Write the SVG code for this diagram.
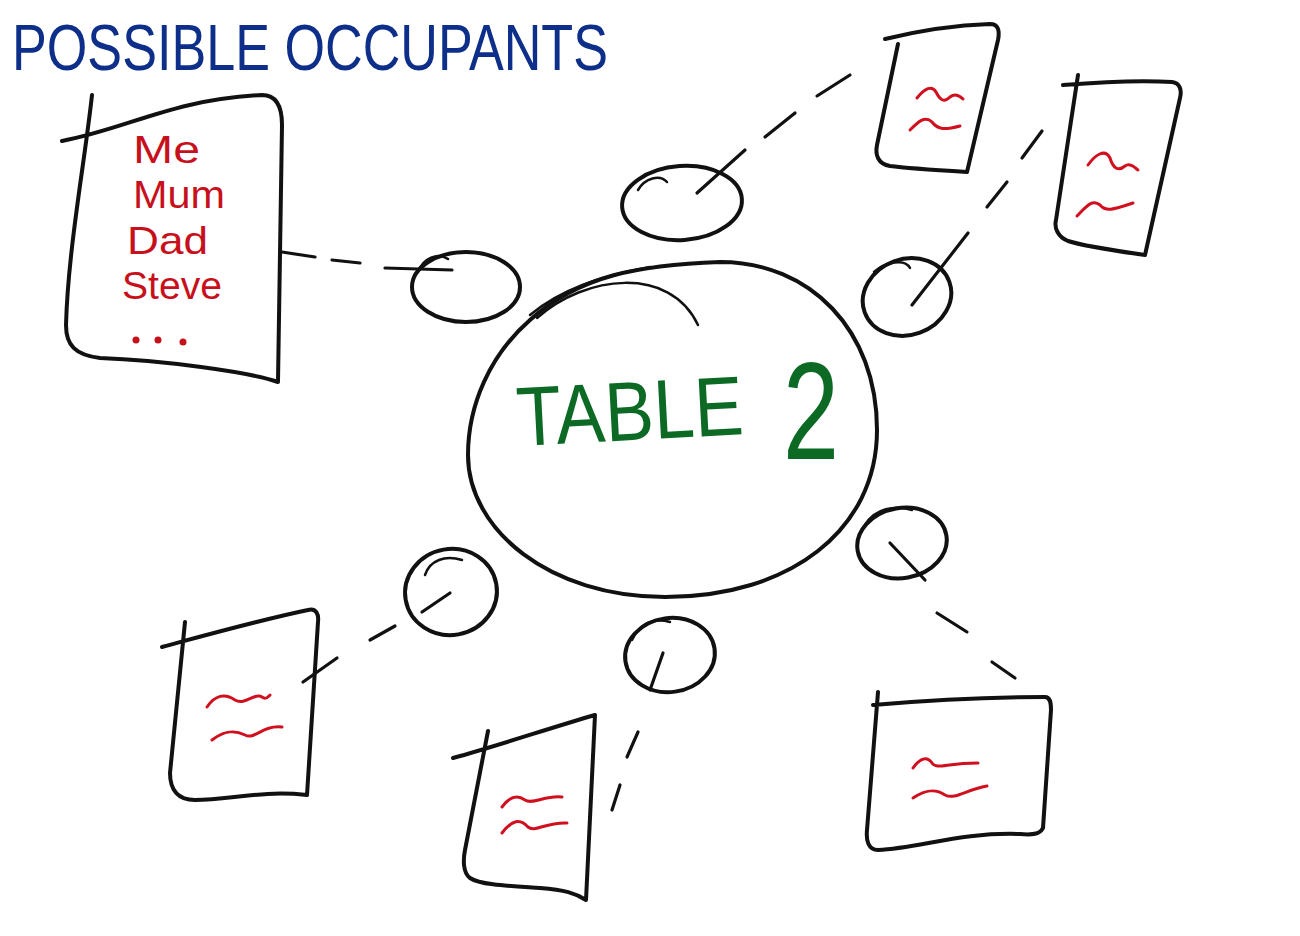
<svg xmlns="http://www.w3.org/2000/svg" width="1300" height="936" viewBox="0 0 1300 936">
<style>
.ink{fill:none;stroke:#111;stroke-width:4;stroke-linecap:round;stroke-linejoin:round}
.thin{fill:none;stroke:#111;stroke-width:2.5;stroke-linecap:round}
.dash{fill:none;stroke:#111;stroke-width:3.2;stroke-linecap:round}
.sq{fill:none;stroke:#d0101e;stroke-width:3;stroke-linecap:round;stroke-linejoin:round}
.red{fill:#c8101c;font-family:"Liberation Sans",Arial,sans-serif;font-size:39px}
.title{fill:#0d2f8a;font-family:"Liberation Sans",Arial,sans-serif;font-size:64px}
.green{fill:#0d6a25;font-family:"Liberation Sans",Arial,sans-serif}
</style>
<rect width="1300" height="936" fill="#fff"/>
<text class="title" x="12" y="70" textLength="596" lengthAdjust="spacingAndGlyphs">POSSIBLE OCCUPANTS</text>

<g id="connectors">
  <line class="dash" x1="282" y1="252" x2="315" y2="257"/>
  <line class="dash" x1="332" y1="260" x2="360" y2="263"/>
  <line class="dash" x1="385" y1="268" x2="452" y2="270"/>
  <line class="dash" x1="697" y1="193" x2="745" y2="150"/>
  <line class="dash" x1="765" y1="137" x2="795" y2="113"/>
  <line class="dash" x1="817" y1="96" x2="850" y2="75"/>
  <line class="dash" x1="912" y1="305" x2="968" y2="233"/>
  <line class="dash" x1="987" y1="207" x2="1007" y2="182"/>
  <line class="dash" x1="1022" y1="158" x2="1042" y2="131"/>
  <line class="dash" x1="890" y1="543" x2="925" y2="580"/>
  <line class="dash" x1="937" y1="613" x2="967" y2="632"/>
  <line class="dash" x1="992" y1="662" x2="1015" y2="678"/>
  <line class="dash" x1="663" y1="653" x2="650" y2="690"/>
  <line class="dash" x1="638" y1="732" x2="627" y2="757"/>
  <line class="dash" x1="620" y1="785" x2="612" y2="810"/>
  <line class="dash" x1="422" y1="612" x2="450" y2="593"/>
  <line class="dash" x1="370" y1="640" x2="395" y2="626"/>
  <line class="dash" x1="303" y1="682" x2="337" y2="658"/>
</g>

<g id="list-card">
  <path class="ink" d="M62,141 C130,128 170,100 262,95 C275,95 282,105 282,125 L278,382 C250,372 160,360 100,358 C75,355 66,345 66,325 C68,250 85,160 92,95"/>
  <text class="red" x="133" y="163" textLength="67" lengthAdjust="spacingAndGlyphs">Me</text>
  <text class="red" x="133" y="208" textLength="92" lengthAdjust="spacingAndGlyphs">Mum</text>
  <text class="red" x="127" y="254" textLength="81" lengthAdjust="spacingAndGlyphs">Dad</text>
  <text class="red" x="122" y="299" textLength="100" lengthAdjust="spacingAndGlyphs">Steve</text>
  <circle cx="136" cy="340" r="3.5" fill="#c8101c"/>
  <circle cx="158" cy="340" r="3.5" fill="#c8101c"/>
  <circle cx="183" cy="342" r="3.5" fill="#c8101c"/>
</g>

<g id="table">
  <path class="ink" d="M530,320 C580,275 640,265 720,262 C810,262 877,330 877,430 C877,530 790,597 665,597 C550,597 468,530 468,455 C468,405 490,355 530,320 Z"/>
  <path class="thin" d="M530,315 C560,290 600,276 650,267"/>
  <path class="thin" d="M537,318 C585,275 670,265 698,325"/>
  <text class="green" x="518" y="446" font-size="84" textLength="227" lengthAdjust="spacingAndGlyphs" transform="rotate(-3 518 446)">TABLE</text>
  <text class="green" x="783" y="459" font-size="140" textLength="56" lengthAdjust="spacingAndGlyphs">2</text>
</g>

<g id="chair-1">
  <ellipse class="ink" cx="466" cy="287" rx="54" ry="35"/>
  <path class="thin" d="M418,272 C423,258 438,252 448,259"/>
</g>
<g id="chair-2">
  <ellipse class="ink" cx="682" cy="203" rx="60" ry="37" transform="rotate(-4 682 203)"/>
  <path class="thin" d="M638,190 C645,178 660,174 667,182"/>
</g>
<g id="chair-3">
  <ellipse class="ink" cx="907" cy="297" rx="45" ry="38" transform="rotate(-20 907 297)"/>
  <path class="thin" d="M874,272 C885,262 905,258 910,268"/>
</g>
<g id="chair-4">
  <ellipse class="ink" cx="902" cy="543" rx="45" ry="35" transform="rotate(-10 902 543)"/>
  <path class="thin" d="M865,525 C875,508 895,505 912,510"/>
</g>
<g id="chair-5">
  <ellipse class="ink" cx="670" cy="655" rx="45" ry="37" transform="rotate(-8 670 655)"/>
  <path class="thin" d="M632,640 C640,622 655,618 670,622"/>
</g>
<g id="chair-6">
  <ellipse class="ink" cx="451" cy="592" rx="46" ry="43" transform="rotate(-10 451 592)"/>
  <path class="thin" d="M425,575 C430,560 445,555 462,560"/>
</g>

<g id="card-a">
  <path class="ink" d="M885,39 C930,28 960,25 990,24 C998,24 1000,30 998,40 L967,172 C935,170 905,168 890,166 C878,164 875,155 877,145 L898,44"/>
  <path class="sq" d="M917,98 C925,88 932,85 936,92 C940,100 944,103 950,97 C955,93 960,96 963,99"/>
  <path class="sq" d="M910,130 C918,122 925,115 932,122 C938,130 945,130 960,126"/>
</g>
<g id="card-b">
  <path class="ink" d="M1063,85 C1100,82 1140,80 1172,82 C1180,83 1182,90 1180,98 L1145,255 C1110,250 1080,245 1068,241 C1058,237 1054,228 1056,220 L1078,75"/>
  <path class="sq" d="M1088,165 C1095,155 1105,148 1110,158 C1113,168 1118,172 1125,166 C1130,162 1135,168 1138,170"/>
  <path class="sq" d="M1077,216 C1085,208 1092,198 1100,205 C1106,212 1112,210 1133,203"/>
</g>
<g id="card-c">
  <path class="ink" d="M453,758 C500,745 550,728 595,715 L586,900 C575,893 565,890 540,888 C510,886 480,885 470,878 C463,873 463,860 465,850 L488,731"/>
  <path class="sq" d="M502,807 C510,796 518,795 525,800 C533,805 545,795 562,797"/>
  <path class="sq" d="M502,833 C512,820 520,818 528,827 C535,833 545,822 567,823"/>
</g>
<g id="card-d">
  <path class="ink" d="M873,705 C930,700 990,697 1045,697 C1050,697 1051,702 1051,710 L1043,828 C1040,835 1030,835 1020,834 C960,832 920,848 878,850 C868,850 866,840 867,830 L878,692"/>
  <path class="sq" d="M913,768 C920,758 927,756 932,763 C937,770 945,763 978,763"/>
  <path class="sq" d="M913,798 C925,790 935,788 945,795 C955,800 965,790 987,786"/>
</g>
<g id="card-e">
  <path class="ink" d="M162,647 C210,634 260,620 308,610 C316,608 319,614 318,622 L307,795 C260,790 230,800 195,800 C178,800 170,790 170,773 L185,622"/>
  <path class="sq" d="M207,707 C215,695 225,693 235,700 C245,706 255,692 262,697 C266,700 268,697 270,695"/>
  <path class="sq" d="M212,740 C225,730 235,730 245,735 C255,740 262,725 282,727"/>
</g>
</svg>
